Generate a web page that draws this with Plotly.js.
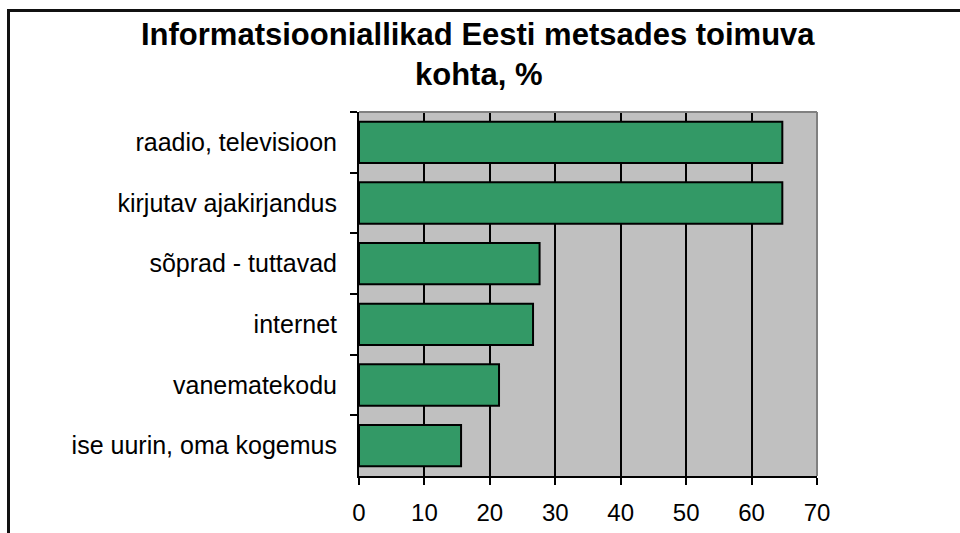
<!DOCTYPE html>
<html>
<head>
<meta charset="utf-8">
<script src="https://cdn.plot.ly/plotly-3.0.1.min.js"></script>
<style>
  html, body { margin: 0; padding: 0; background: #fff; overflow: hidden; }
  #wrap { position: relative; width: 960px; height: 533px; }
  #frame { position: absolute; left: 7px; top: 9px; width: 1000px; height: 600px;
           border-left: 3px solid #111; border-top: 3px solid #111; pointer-events: none; z-index: 5; }
  #chart { position: absolute; left: 0; top: 0; width: 960px; height: 533px; }
</style>
</head>
<body>
<div id="wrap">
  <div id="chart"></div>
  <div id="frame"></div>
</div>
<script>
const titleLines = ["Informatsiooniallikad Eesti metsades toimuva", "kohta, %"];
const categories = [
  "raadio, televisioon",
  "kirjutav ajakirjandus",
  "sõprad - tuttavad",
  "internet",
  "vanematekodu",
  "ise uurin, oma kogemus"
];
const values = [64.7, 64.7, 27.6, 26.6, 21.4, 15.6];
const xTickValues = [0, 10, 20, 30, 40, 50, 60, 70];

const trace = {
  type: "bar",
  orientation: "h",
  y: categories,
  x: values,
  marker: { color: "#339966", line: { color: "#000", width: 2 } },
  hoverinfo: "x+y"
};

const titleFont = { family: "Liberation Sans, Arial, sans-serif", size: 31, color: "#000", weight: "bold" };

const layout = {
  width: 960,
  height: 533,
  margin: { l: 359, r: 143, t: 112, b: 57 },
  paper_bgcolor: "#ffffff",
  plot_bgcolor: "#c0c0c0",
  font: { family: "Liberation Sans, Arial, sans-serif", color: "#000", size: 24 },
  bargap: 0.32,
  showlegend: false,
  annotations: [
    { text: "<b>" + titleLines[0] + "</b>", xref: "paper", yref: "paper", x: 0.26, y: 1.212,
      xanchor: "center", yanchor: "middle", showarrow: false, font: titleFont },
    { text: "<b>" + titleLines[1] + "</b>", xref: "paper", yref: "paper", x: 0.26, y: 1.102,
      xanchor: "center", yanchor: "middle", showarrow: false, font: titleFont }
  ],
  xaxis: {
    range: [0, 70],
    tickvals: xTickValues,
    ticktext: xTickValues.map(String),
    showgrid: true, gridcolor: "#000", gridwidth: 2,
    zeroline: false,
    showline: true, linecolor: "#000", linewidth: 2,
    ticks: "outside", ticklen: 7, tickwidth: 2, tickcolor: "#000",
    ticklabelstandoff: 7,
    tickfont: { size: 24, color: "#000" },
    fixedrange: true
  },
  yaxis: {
    type: "category",
    categoryorder: "array",
    categoryarray: categories,
    autorange: "reversed",
    showgrid: false,
    zeroline: false,
    showline: true, linecolor: "#000", linewidth: 2,
    ticks: "outside", tickson: "boundaries", ticklen: 7, tickwidth: 2, tickcolor: "#000",
    ticklabelstandoff: 15,
    tickfont: { size: 25, color: "#000" },
    fixedrange: true
  },
  shapes: [
    { type: "line", xref: "paper", yref: "paper", x0: 0, x1: 1, y0: 1, y1: 1,
      line: { color: "#808080", width: 2 }, layer: "above" },
    { type: "line", xref: "paper", yref: "paper", x0: 1, x1: 1, y0: 0, y1: 1,
      line: { color: "#808080", width: 2 }, layer: "above" }
  ]
};

Plotly.newPlot("chart", [trace], layout, { displayModeBar: false, staticPlot: true });
</script>
</body>
</html>
